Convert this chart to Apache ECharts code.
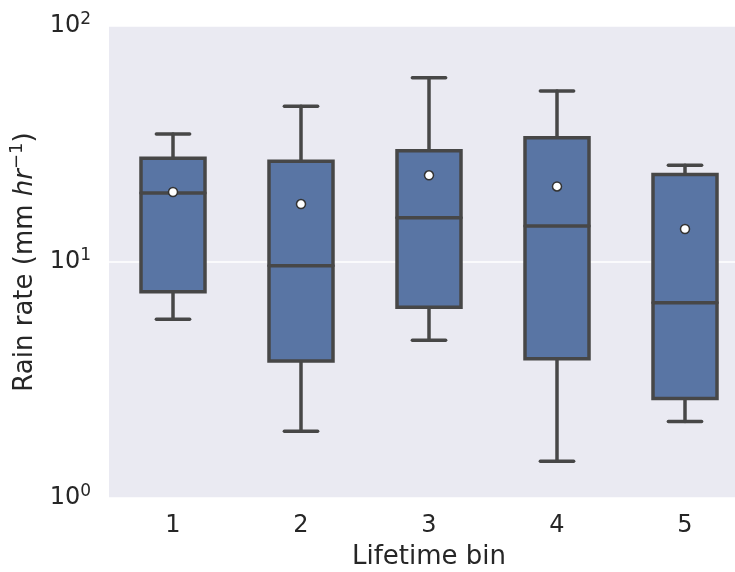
<!DOCTYPE html>
<html>
<head>
<meta charset="utf-8">
<script src="https://cdn.jsdelivr.net/npm/echarts@6/dist/echarts.min.js"></script>
<style>
  html, body { margin: 0; padding: 0; background: #fff; }
  #chart { width: 735px; height: 572px; }
</style>
</head>
<body>
<div id="chart"></div>
<script>
// lifetime bins and box statistics (log scale)
const bins = ['1', '2', '3', '4', '5'];
const whiskerLow = [5.72, 1.92, 4.66, 1.43, 2.11];
const q1 = [7.48, 3.81, 6.43, 3.89, 2.64];
const median = [19.6, 9.64, 15.4, 14.2, 6.72];
const q3 = [27.5, 26.7, 29.6, 33.6, 23.5];
const whiskerHigh = [34.9, 45.7, 60.4, 53.0, 25.7];
const means = [19.8, 17.6, 23.3, 20.9, 13.8];
const yTicks = [1, 10, 100];

const boxFill = '#5975a4';
const edge = '#474747';
const lw = 3.5;

const boxData = bins.map((b, i) => [i, whiskerLow[i], q1[i], median[i], q3[i], whiskerHigh[i]]);
const meanData = bins.map((b, i) => [i, means[i]]);

function renderBox(params, api) {
  const idx = api.value(0);
  const band = api.size([1, 0])[0];
  const half = band * 0.25;
  const capHalf = band * 0.13;
  const pLow = api.coord([idx, api.value(1)]);
  const pQ1 = api.coord([idx, api.value(2)]);
  const pMed = api.coord([idx, api.value(3)]);
  const pQ3 = api.coord([idx, api.value(4)]);
  const pHigh = api.coord([idx, api.value(5)]);
  const x = pQ1[0];
  const line = (x1, y1, x2, y2) => ({
    type: 'line',
    shape: { x1, y1, x2, y2 },
    style: { stroke: edge, lineWidth: lw, lineCap: 'round' }
  });
  return {
    type: 'group',
    children: [
      line(x, pQ3[1], x, pHigh[1]),
      line(x, pQ1[1], x, pLow[1]),
      line(x - capHalf, pHigh[1], x + capHalf, pHigh[1]),
      line(x - capHalf, pLow[1], x + capHalf, pLow[1]),
      {
        type: 'rect',
        shape: { x: x - half, y: pQ3[1], width: half * 2, height: pQ1[1] - pQ3[1] },
        style: { fill: boxFill, stroke: edge, lineWidth: lw }
      },
      line(x - half, pMed[1], x + half, pMed[1])
    ]
  };
}

const chart = echarts.init(document.getElementById('chart'));
chart.setOption({
  backgroundColor: '#ffffff',
  animation: false,
  textStyle: { fontFamily: 'DejaVu Sans' },
  grid: {
    left: 109, top: 26, width: 640, height: 472,
    outerBoundsMode: 'none',
    containLabel: false,
    show: true, backgroundColor: '#eaeaf2', borderWidth: 0
  },
  xAxis: {
    type: 'category',
    data: bins,
    boundaryGap: true,
    name: 'Lifetime bin',
    nameLocation: 'middle',
    nameGap: 46,
    nameTextStyle: { fontSize: 26, color: '#262626', fontFamily: 'DejaVu Sans' },
    axisLine: { show: false },
    axisTick: { show: false },
    splitLine: { show: false },
    axisLabel: { fontSize: 24, color: '#262626', margin: 16 }
  },
  yAxis: {
    type: 'log',
    logBase: 10,
    min: yTicks[0],
    max: yTicks[yTicks.length - 1],
    name: '{n|Rain rate (mm }{i|hr}{s|−1}{n|)}',
    nameLocation: 'middle',
    nameGap: 56,
    nameTextStyle: {
      color: '#262626',
      rich: {
        n: { fontSize: 26, lineHeight: 34, color: '#262626', fontFamily: 'DejaVu Sans' },
        i: { fontSize: 26, lineHeight: 34, fontStyle: 'italic', color: '#262626', fontFamily: 'DejaVu Sans' },
        s: { fontSize: 18, lineHeight: 20, verticalAlign: 'top', color: '#262626', fontFamily: 'DejaVu Sans' }
      }
    },
    axisLine: { show: false },
    axisTick: { show: false },
    minorTick: { show: false },
    splitLine: { show: true, lineStyle: { color: '#ffffff', width: 1.5 } },
    axisLabel: {
      margin: 18,
      formatter: v => '{b|10}{s|' + Math.round(Math.log10(v)) + '}',
      rich: {
        b: { fontSize: 24, lineHeight: 30, color: '#262626', fontFamily: 'DejaVu Sans' },
        s: { fontSize: 17, lineHeight: 20, verticalAlign: 'top', color: '#262626', fontFamily: 'DejaVu Sans' }
      }
    }
  },
  series: [
    {
      type: 'custom',
      renderItem: renderBox,
      data: boxData,
      encode: { x: 0, y: [1, 2, 3, 4, 5] },
      z: 2
    },
    {
      type: 'scatter',
      data: meanData,
      symbol: 'circle',
      symbolSize: 9,
      itemStyle: { color: '#ffffff', borderColor: '#333333', borderWidth: 1.5, opacity: 1 },
      z: 3
    }
  ]
});
</script>
</body>
</html>
